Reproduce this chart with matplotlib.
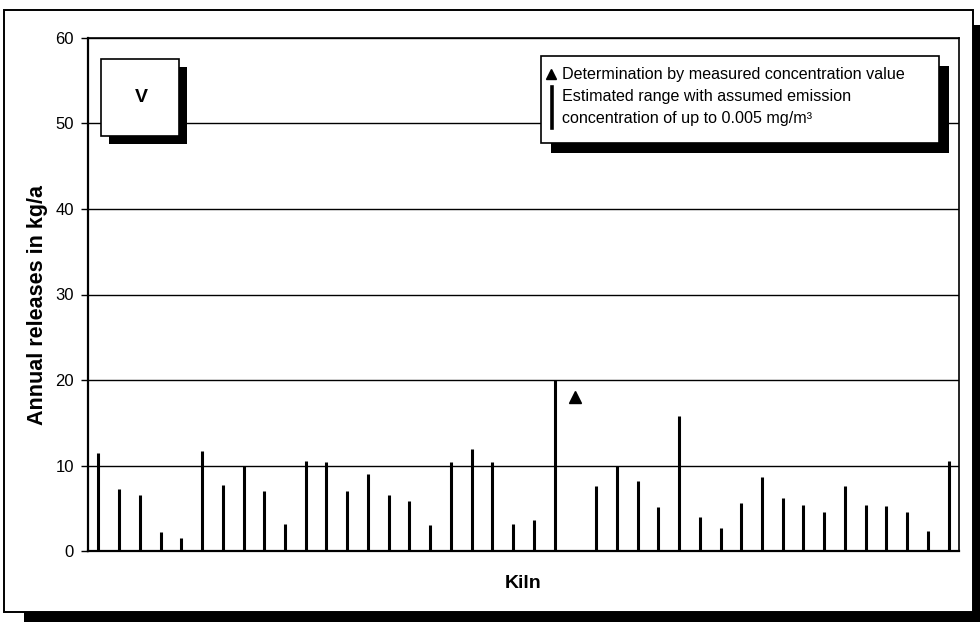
import matplotlib
matplotlib.use("Agg")
import matplotlib.pyplot as plt
from matplotlib.patches import Rectangle
from matplotlib.lines import Line2D

plt.rcParams['font.family'] = ['Liberation Sans', 'DejaVu Sans']

# Estimated upper bound of annual release per kiln (kg/a); None = measured only
estimated_range = [11.5, 7.2, 6.6, 2.2, 1.5, 11.7, 7.7, 9.9, 7.0, 3.1,
                   10.5, 10.4, 7.0, 9.0, 6.6, 5.9, 3.0, 10.4, 11.9, 10.4,
                   3.2, 3.6, 20.0, None, 7.6, 10.0, 8.2, 5.2, 15.8, 4.0,
                   2.7, 5.6, 8.6, 6.2, 5.4, 4.6, 7.6, 5.4, 5.3, 4.6,
                   2.3, 10.5]
# Determination by measured concentration value (kg/a)
measured = [None] * 23 + [18.0] + [None] * 18

y_ticks = [0, 10, 20, 30, 40, 50, 60]
panel_label = "V"
legend_lines = ["Determination by measured concentration value",
                "Estimated range with assumed emission",
                "concentration of up to 0.005 mg/m\u00b3"]

W, H = 980, 622
fig = plt.figure(figsize=(W / 100, H / 100), dpi=100)


def fx(px):
    return px / W


def fy(py):
    return 1 - py / H


# outer frame with drop shadow
fig.add_artist(Rectangle((fx(24), fy(625)), fx(990 - 24), fy(25) - fy(625),
                         transform=fig.transFigure, facecolor='black',
                         edgecolor='none', zorder=0))
fig.add_artist(Rectangle((fx(4), fy(612)), fx(973 - 4), fy(10) - fy(612),
                         transform=fig.transFigure, facecolor='white',
                         edgecolor='black', linewidth=1.4, zorder=1))

ax = fig.add_axes([fx(88), fy(551), fx(959 - 88), fy(38) - fy(551)])
ax.set_zorder(2)
ax.patch.set_facecolor('white')

n = len(estimated_range)
bx = [i for i, v in enumerate(estimated_range) if v is not None]
bv = [v for v in estimated_range if v is not None]
ax.vlines(bx, 0, bv, colors='black', linewidth=2.2, zorder=3)
mx = [i for i, v in enumerate(measured) if v is not None]
mv = [v for v in measured if v is not None]
ax.plot(mx, mv, linestyle='none', marker='^', color='black',
        markersize=8.5, zorder=4)

ax.set_xlim(-0.5, n - 0.5)
ax.set_ylim(0, 60)
ax.set_yticks(y_ticks)
ax.set_xticks([])
ax.tick_params(axis='y', length=5, width=1, colors='black',
               labelsize=12, pad=5)
ax.yaxis.grid(True, color='black', linewidth=1)
ax.set_axisbelow(True)
for s in ax.spines.values():
    s.set_color('black')
    s.set_linewidth(1.2)
ax.spines['left'].set_linewidth(1.6)
ax.spines['bottom'].set_linewidth(1.6)

fig.text(fx(37), fy(305), "Annual releases in kg/a", fontsize=15.5,
         fontweight='bold', rotation=90, ha='center', va='center')
fig.text(fx(523), fy(583), "Kiln", fontsize=14, fontweight='bold',
         ha='center', va='center')

# panel label box
fig.add_artist(Rectangle((fx(109), fy(144)), fx(78), fy(67) - fy(144),
                         transform=fig.transFigure, facecolor='black',
                         edgecolor='none', zorder=5))
fig.add_artist(Rectangle((fx(101), fy(136)), fx(78), fy(59) - fy(136),
                         transform=fig.transFigure, facecolor='white',
                         edgecolor='black', linewidth=1.2, zorder=6))
fig.text(fx(141), fy(98), panel_label, fontsize=14, fontweight='bold',
         ha='center', va='center', zorder=7)

# legend box
fig.add_artist(Rectangle((fx(551), fy(153)), fx(398), fy(66) - fy(153),
                         transform=fig.transFigure, facecolor='black',
                         edgecolor='none', zorder=5))
fig.add_artist(Rectangle((fx(541), fy(143)), fx(398), fy(56) - fy(143),
                         transform=fig.transFigure, facecolor='white',
                         edgecolor='black', linewidth=1.2, zorder=6))
fig.add_artist(Line2D([fx(551)], [fy(74)], transform=fig.transFigure,
                      marker='^', color='black', markersize=7.5,
                      linestyle='none', zorder=7))
fig.add_artist(Line2D([fx(552), fx(552)], [fy(87), fy(128)],
                      transform=fig.transFigure, color='black',
                      linewidth=2.6, zorder=7))
for txt, ypx in zip(legend_lines, [75, 97, 119]):
    fig.text(fx(562), fy(ypx), txt, fontsize=11.6, ha='left', va='center',
             zorder=7)

fig.savefig("out.png", dpi=100)
